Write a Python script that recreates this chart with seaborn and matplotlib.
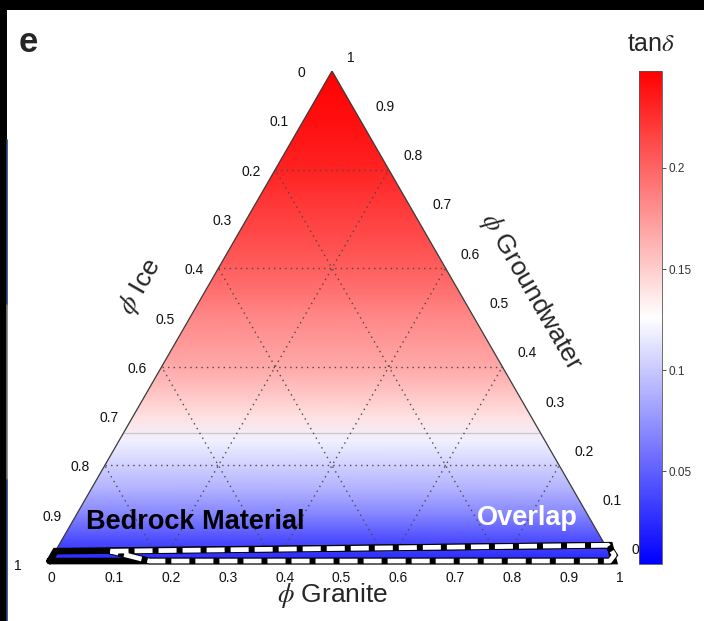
import numpy as np
import pandas as pd
import matplotlib
matplotlib.use("Agg")
import matplotlib.pyplot as plt
from matplotlib.patches import Polygon, Rectangle
from matplotlib.lines import Line2D
from matplotlib.colors import Normalize
from matplotlib.cm import ScalarMappable
import seaborn as sns

# ---------------------------------------------------------------- data
# loss tangent of the ice / granite / groundwater mixture, sampled along
# the groundwater volume fraction (the gradient only varies with it)
GW_LEVELS = [0.00, 0.05, 0.10, 0.15, 0.20, 0.25, 0.30, 0.35, 0.40, 0.45, 0.50,
             0.55, 0.60, 0.65, 0.70, 0.75, 0.80, 0.85, 0.90, 0.95, 1.00]
TAN_DELTA = [0.021, 0.042, 0.067, 0.088, 0.104, 0.119, 0.141, 0.155, 0.167, 0.175,
             0.183, 0.193, 0.203, 0.210, 0.217, 0.224, 0.231, 0.236, 0.241, 0.244,
             0.248]
CBAR_RANGE = [0.004, 0.248]
CBAR_TICKS = [0.05, 0.10, 0.15, 0.20]
CBAR_LABELS = ["0.05", "0.1", "0.15", "0.2"]

AXIS_TICKS = [0.0, 0.1, 0.2, 0.3, 0.4, 0.5, 0.6, 0.7, 0.8, 0.9, 1.0]
TICK_LABELS = ["0", "0.1", "0.2", "0.3", "0.4", "0.5", "0.6", "0.7", "0.8", "0.9", "1"]
GRID_LEVELS = [0.2, 0.4, 0.6, 0.8]

# regions given as (granite fraction, groundwater fraction)
BEDROCK_GRANITE = [0.000, 0.993, 0.970, 0.000]
BEDROCK_WATER = [0.006, 0.006, 0.038, 0.026]
OVERLAP_GRANITE = [0.097, 0.967, 0.988, 0.986, 0.176]
OVERLAP_WATER = [0.026, 0.038, 0.018, 0.006, 0.006]

# ---------------------------------------------------------------- style
sns.set_theme(style="white")
plt.rcParams["font.family"] = ["Liberation Sans", "DejaVu Sans"]
plt.rcParams["mathtext.fontset"] = "stix"
plt.rcParams["lines.scale_dashes"] = False

W, H = 704, 621
fig = plt.figure(figsize=(W / 100, H / 100), dpi=100)
fig.patch.set_facecolor("white")


def fig_box(x0, y0, x1, y1):
    """pixel box (top-left origin) -> figure fraction rect"""
    return [x0 / W, 1 - y1 / H, (x1 - x0) / W, (y1 - y0) / H]


# ternary axes: x = granite + groundwater/2, y = groundwater
ax = fig.add_axes(fig_box(48, 71, 616, 564))
ax.set_xlim(0, 1)
ax.set_ylim(0, 1)
ax.axis("off")


def tern(g, w):
    g = np.asarray(g, dtype=float)
    w = np.asarray(w, dtype=float)
    return g + w / 2, w


cmap = plt.get_cmap("bwr")
norm = Normalize(vmin=CBAR_RANGE[0], vmax=CBAR_RANGE[1])

# colour gradient, clipped to the triangle
gw = np.array(GW_LEVELS)
td = np.array(TAN_DELTA)
X = np.tile([0.0, 1.0], (len(gw), 1))
Y = np.repeat(gw[:, None], 2, axis=1)
C = np.repeat(td[:, None], 2, axis=1)
mesh = ax.pcolormesh(X, Y, C, shading="gouraud", cmap=cmap, norm=norm, zorder=1)
tri = Polygon([[0, 0], [1, 0], [0.5, 1]], closed=True, transform=ax.transData,
              facecolor="none", edgecolor="none")
ax.add_patch(tri)
mesh.set_clip_path(tri)

# faint boundary where the mixture crosses the colour-map midpoint
ax.plot([0.266 / 2, 1 - 0.266 / 2], [0.266, 0.266], color="#c8c8c8", lw=0.9, zorder=2)

# dotted ternary grid
rows = []
for k, c in enumerate(GRID_LEVELS):
    rows += [dict(x=c / 2, y=c, line=f"w{k}"), dict(x=1 - c / 2, y=c, line=f"w{k}")]
    rows += [dict(x=c, y=0, line=f"g{k}"), dict(x=c + (1 - c) / 2, y=1 - c, line=f"g{k}")]
    rows += [dict(x=1 - c, y=0, line=f"i{k}"), dict(x=(1 - c) / 2, y=1 - c, line=f"i{k}")]
grid = pd.DataFrame(rows)
sns.lineplot(data=grid, x="x", y="y", units="line", estimator=None, sort=False,
             color="#4a4a4a", lw=1.0, linestyle=(0, (1.0, 3.0)), ax=ax, zorder=2)

# triangle frame
edge = pd.DataFrame(dict(x=[0, 1, 0.5, 0], y=[0, 0, 1, 0]))
sns.lineplot(data=edge, x="x", y="y", sort=False, estimator=None,
             color="#3a3a3a", lw=0.9, ax=ax, zorder=3)

# bedrock region (solid black outline)
bx, by = tern(BEDROCK_GRANITE + BEDROCK_GRANITE[:1], BEDROCK_WATER + BEDROCK_WATER[:1])
ax.plot(bx, by, color="black", lw=4.8, solid_joinstyle="miter", zorder=4, clip_on=False)

# overlap region (black / white dashed outline)
ox, oy = tern(OVERLAP_GRANITE + OVERLAP_GRANITE[:1], OVERLAP_WATER + OVERLAP_WATER[:1])
ax.plot(ox, oy, color="black", lw=4.8, solid_joinstyle="miter", zorder=5, clip_on=False)
ax.plot(ox, oy, color="white", lw=3.4, linestyle=(0, (13.0, 4.3)),
        dash_capstyle="butt", zorder=6, clip_on=False)

# tick labels on the three sides
PX = 0.72  # points per pixel
for v, lab in zip(AXIS_TICKS, TICK_LABELS):
    # ice (left side)
    ax.annotate(lab, xy=((1 - v) / 2, 1 - v), xytext=(-34 * PX, -2 * PX),
                textcoords="offset points", ha="left", va="center",
                fontsize=10, color="#111111", annotation_clip=False)
    # groundwater (right side)
    ax.annotate(lab, xy=(1 - v / 2, v), xytext=(15 * PX, 13.5 * PX),
                textcoords="offset points", ha="left", va="center",
                fontsize=10, color="#111111", annotation_clip=False)
    # granite (base)
    ax.annotate(lab, xy=(v, 0), xytext=(0, -14 * PX),
                textcoords="offset points", ha="left", va="center",
                fontsize=10, color="#111111", annotation_clip=False)

# axis titles
fig.text(333 / W, 1 - 595 / H, r"$\phi$ Granite", fontsize=19, ha="center", va="center")
fig.text(140 / W, 1 - 287 / H, r"$\phi$ Ice", fontsize=19, ha="center", va="center",
         rotation=60, rotation_mode="anchor")
fig.text(531 / W, 1 - 292 / H, r"$\phi$ Groundwater", fontsize=19, ha="center",
         va="center", rotation=-60, rotation_mode="anchor")

# region names
fig.text(195 / W, 1 - 522 / H, "Bedrock Material", fontsize=19.5, fontweight="bold",
         ha="center", va="center", color="black")
fig.text(527 / W, 1 - 518 / H, "Overlap", fontsize=19.5, fontweight="bold",
         ha="center", va="center", color="white")

# panel letter
fig.text(28 / W, 1 - 42 / H, "e", fontsize=25, fontweight="bold", ha="center", va="center")

# colour bar
cax = fig.add_axes(fig_box(639, 71, 662, 564))
cb = fig.colorbar(ScalarMappable(norm=norm, cmap=cmap), cax=cax, ticks=CBAR_TICKS)
cb.ax.set_yticklabels(CBAR_LABELS)
cb.ax.tick_params(direction="out", length=3, width=0.6, colors="#333333",
                  labelsize=8.5, pad=2)
cb.outline.set_edgecolor("#555555")
cb.outline.set_linewidth(0.6)
fig.text(651 / W, 1 - 44 / H, r"tan$\delta$", fontsize=18, ha="center", va="center")

# panel frame fragments
fig.add_artist(Rectangle((0, 1 - 10 / H), 1, 10 / H, transform=fig.transFigure,
                         facecolor="black", edgecolor="none"))
fig.add_artist(Rectangle((0, 0), 7 / W, 1, transform=fig.transFigure,
                         facecolor="black", edgecolor="none"))
for y0, y1, col in [(140, 305, "#27457e"), (305, 480, "#7a7a7a"), (480, 621, "#27457e")]:
    fig.add_artist(Line2D([7.5 / W, 7.5 / W], [1 - y0 / H, 1 - y1 / H],
                          transform=fig.transFigure, color=col, lw=1.2))

fig.savefig("out.png", dpi=100)
